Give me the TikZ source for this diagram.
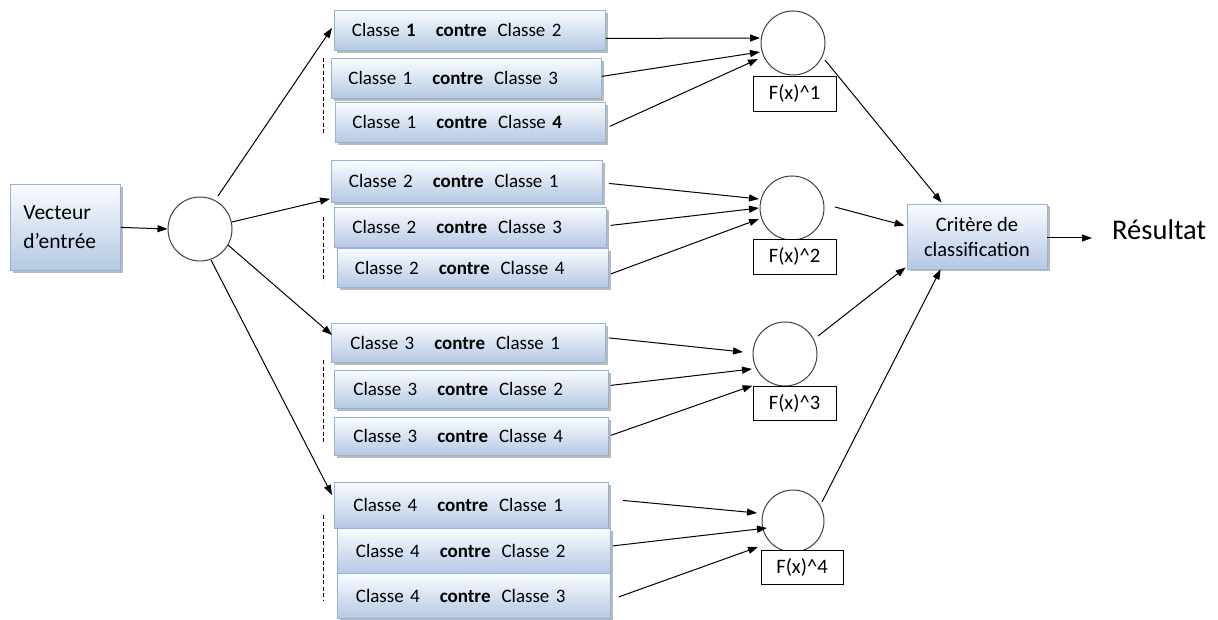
\documentclass[tikz,border=0pt]{standalone}
\usepackage{fontspec}
\setmainfont{Carlito}
\usetikzlibrary{shadows,arrows.meta,calc}
\definecolor{boxtop}{RGB}{250,252,255}
\definecolor{boxbot}{RGB}{180,200,227}
\definecolor{boxline}{RGB}{150,178,214}
\newcommand\vs[2]{#1\hspace{20pt}\textbf{contre}\hspace{11pt}#2}
\begin{document}
\begin{tikzpicture}[x=1pt,y=-1pt,
  shaded/.style={draw=boxline, line width=0.8pt, top color=boxtop, bottom color=boxbot,
    drop shadow={shadow xshift=2.5pt, shadow yshift=-2.5pt, fill=black!45, opacity=0.6}},
  cbox/.style={shaded, anchor=north west, text width=236pt, inner xsep=16pt, inner ysep=0pt,
    align=left, font=\fontsize{19}{22}\selectfont},
  circ/.style={circle, draw=black!75, line width=1pt, minimum size=64pt, inner sep=0pt},
  lab/.style={draw=black, line width=0.9pt, fill=white, minimum width=83pt, minimum height=35pt,
    inner sep=0pt, font=\fontsize{20.5}{22}\selectfont},
  arr/.style={-{Triangle[length=10pt,width=7pt]}, line width=1pt},
  dashline/.style={dashed, dash pattern=on 4pt off 2.5pt, line width=1pt}]
\useasboundingbox (0,0) rectangle (1218,620);

% input
\node[shaded, anchor=north west, minimum width=110pt, minimum height=86pt, inner xsep=13pt,
  align=left, font=\fontsize{21.5}{29}\selectfont, text width=84pt] (vec) at (10,184) {Vecteur\\d’entrée};
\node[circ] (c0) at (200,229) {};

% group 1
\node[cbox, minimum width=271pt, minimum height=40pt] (b12) at (334,10) {\vs{Classe~\textbf{1}}{Classe~2}};
\node[cbox, minimum width=270pt, minimum height=40pt] (b13) at (331,58) {\vs{Classe~1}{Classe~3}};
\node[cbox, minimum width=270pt, minimum height=40pt] (b14) at (335,102) {\vs{Classe~1}{Classe~\textbf{4}}};
% group 2
\node[cbox, minimum width=271pt, minimum height=42pt] (b21) at (331,160) {\vs{Classe~2}{Classe~1}};
\node[cbox, minimum width=272pt, minimum height=40pt] (b23) at (334,207) {\vs{Classe~2}{Classe~3}};
\node[cbox, minimum width=271pt, minimum height=39pt] (b24) at (337,248) {\vs{Classe~2}{Classe~4}};
% group 3
\node[cbox, minimum width=274pt, minimum height=39pt] (b31) at (331,323) {\vs{Classe~3}{Classe~1}};
\node[cbox, minimum width=274pt, minimum height=38pt] (b32) at (334,370) {\vs{Classe~3}{Classe~2}};
\node[cbox, minimum width=274pt, minimum height=38pt] (b34) at (334,417) {\vs{Classe~3}{Classe~4}};
% group 4
\node[cbox, minimum width=274pt, minimum height=46pt] (b41) at (334,482) {\vs{Classe~4}{Classe~1}};
\node[cbox, minimum width=273pt, minimum height=45pt] (b42) at (337,528) {\vs{Classe~4}{Classe~2}};
\node[cbox, minimum width=273pt, minimum height=45pt] (b43) at (337,573) {\vs{Classe~4}{Classe~3}};

% dashed markers
\coordinate (d1a) at (323,58);  \coordinate (d1b) at (323,133);
\coordinate (d2a) at (323,217); \coordinate (d2b) at (323,282);
\coordinate (d3a) at (323,360); \coordinate (d3b) at (323,443);
\coordinate (d4a) at (323,515); \coordinate (d4b) at (323,600);
\draw[dashline] (d1a) -- (d1b);
\draw[dashline] (d2a) -- (d2b);
\draw[dashline] (d3a) -- (d3b);
\draw[dashline] (d4a) -- (d4b);

% combination circles
\node[circ] (c1) at (793,43) {};
\node[circ] (c2) at (792,208) {};
\node[circ] (c3) at (785,354) {};
\node[circ, minimum size=62pt] (c4) at (793,521) {};
\node[lab] (f1) at (794.5,93.5) {F(x)\^{}1};
\node[lab] (f2) at (794.5,256.5) {F(x)\^{}2};
\node[lab, minimum height=34pt] (f3) at (794.5,403) {F(x)\^{}3};
\node[lab, minimum width=82pt, minimum height=34pt] (f4) at (802,567) {F(x)\^{}4};

% criterion and result
\node[shaded, minimum width=140pt, minimum height=65pt, align=center, inner ysep=0pt,
  font=\fontsize{20.5}{25}\selectfont] (crit) at (977,236.5) {Critère de\\classification};
\node[anchor=base west, inner sep=0pt, font=\fontsize{28.5}{30}\selectfont] (res) at (1112,240) {Résultat};

% connectors
\draw[arr] (vec.east) -- (c0.west);
\draw[arr] ($(c0)+(18,-33)$) -- ($(b12.north west)+(-2,18)$);
\draw[arr] ($(c0)+(32,-7)$) -- ($(b21.south west)+(-1,-4)$);
\draw[arr] ($(c0)+(28,16)$) -- ($(b31.north west)+(1,12)$);
\draw[arr] ($(c0)+(11,31)$) -- ($(b41.north west)+(-2,13)$);

\draw[arr] ($(b12.east)+(0,8)$) -- ($(c1)+(-33,-5)$);
\draw[arr] ($(b13.east)+(0,-2)$) -- ($(c1)+(-33,9)$);
\draw[arr] ($(b14.east)+(4,4)$) -- ($(c1)+(-35,16)$);

\draw[arr] ($(b21.east)+(6,2)$) -- ($(c2)+(-33,-9)$);
\draw[arr] ($(b23.east)+(4,-2)$) -- ($(c2)+(-33,0)$);
\draw[arr] ($(b24.east)+(2,6)$) -- ($(c2)+(-33,11)$);

\draw[arr] ($(b31.east)+(3,-5)$) -- ($(c3)+(-42,-2)$);
\draw[arr] ($(b32.east)+(2,-4)$) -- ($(c3)+(-33,15)$);
\draw[arr] ($(b34.east)+(2,-1)$) -- (f3.north west);

\draw[arr] ($(b41.east)+(14,-5)$) -- ($(c4)+(-36,-8)$);
\draw[arr] ($(b42.east)+(2,-5)$) -- ($(c4)+(-26,7)$);
\draw[arr] ($(b43.east)+(8,1)$) -- ($(c4)+(-35,26)$);

\draw[arr] ($(c1)+(32,17)$) -- ($(crit.north west)+(35,-1)$);
\draw[arr] ($(c2)+(43,-1)$) -- ($(crit.north west)+(-2,22)$);
\draw[arr] ($(c3)+(33,-18)$) -- ($(crit.south west)+(-1,-2)$);
\draw[arr] ($(c4)+(29,-19)$) -- ($(crit.south west)+(34,0)$);
\draw[arr] ($(crit.east)+(0,1.5)$) -- ($(res.base west)+(-20,-2)$);
\end{tikzpicture}
\end{document}
